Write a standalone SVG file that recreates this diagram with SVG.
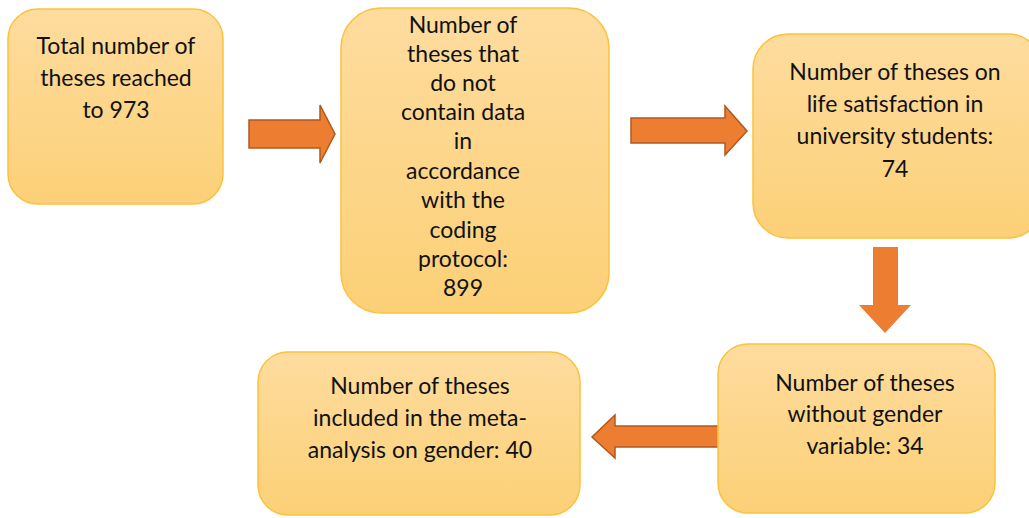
<svg xmlns="http://www.w3.org/2000/svg" width="1029" height="518" viewBox="0 0 1029 518">
<defs>
<linearGradient id="g" x1="0" y1="0" x2="0" y2="1">
<stop offset="0" stop-color="#FEDC9E"/>
<stop offset="1" stop-color="#FCD077"/>
</linearGradient>
<style>
.box{fill:url(#g);stroke:#FBC23A;stroke-width:1.5}
.arr{fill:#ED7D31;stroke:#B0591F;stroke-width:1.5;stroke-linejoin:miter}
text{font-family:Lato,"Liberation Sans",sans-serif;font-size:23px;fill:#111;text-anchor:middle}
</style>
</defs>
<g id="connectors">
<polygon class="arr" points="249,120 320,120 320,105 335,134 320,163 320,148 249,148"/>
<polygon class="arr" points="631,118 725,118 725,106 747,131 725,155 725,143 631,143"/>
<polygon class="arr" points="873,247 898,247 898,305 911,305 885,333 859,305 873,305" style="stroke:none"/>
<polygon class="arr" points="720,426 615,426 615,415 592,437 615,458 615,447 720,447"/>
</g>
<g id="n1">
<rect class="box" x="8" y="9" width="215" height="195" rx="30"/>
<text x="116" y="54">Total number of</text>
<text x="116" y="86">theses reached</text>
<text x="116" y="118">to 973</text>
</g>
<g id="n2">
<rect class="box" x="341" y="8" width="268" height="305" rx="40"/>
<text x="463" y="33">Number of</text>
<text x="463" y="62">theses that</text>
<text x="463" y="91">do not</text>
<text x="463" y="120">contain data</text>
<text x="463" y="149">in</text>
<text x="463" y="179">accordance</text>
<text x="463" y="208">with the</text>
<text x="463" y="238">coding</text>
<text x="463" y="267">protocol:</text>
<text x="463" y="296">899</text>
</g>
<g id="n3">
<rect class="box" x="753" y="34" width="290" height="204" rx="35"/>
<text x="895" y="80">Number of theses on</text>
<text x="895" y="112">life satisfaction in</text>
<text x="895" y="144">university students:</text>
<text x="895" y="177">74</text>
</g>
<g id="n4">
<rect class="box" x="718" y="344" width="277" height="169" rx="30"/>
<text x="865" y="391">Number of theses</text>
<text x="865" y="422">without gender</text>
<text x="865" y="454">variable: 34</text>
</g>
<g id="n5">
<rect class="box" x="258" y="352" width="322" height="163" rx="30"/>
<text x="420" y="394">Number of theses</text>
<text x="420" y="426">included in the meta-</text>
<text x="420" y="458">analysis on gender: 40</text>
</g>
</svg>
